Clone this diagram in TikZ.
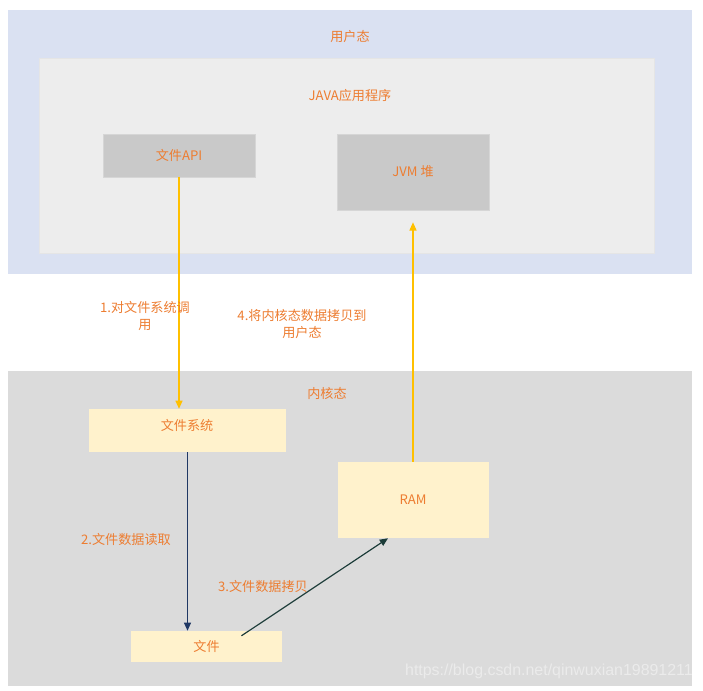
\documentclass[tikz,border=0pt]{standalone}
\usepackage{fontspec}
\setmainfont{Noto Sans CJK SC}
\newfontfamily\wmfont{Liberation Sans}
\usepackage{xcolor}
\usetikzlibrary{arrows.meta,calc}

\definecolor{userbg}{HTML}{DAE1F2}
\definecolor{appbg}{HTML}{EDEDED}
\definecolor{kernbg}{HTML}{DBDBDB}
\definecolor{grbox}{HTML}{C9C9C9}
\definecolor{yebox}{HTML}{FFF2CC}
\definecolor{txtorange}{HTML}{ED7D31}
\definecolor{arrorange}{HTML}{FFC000}
\definecolor{arrblue}{HTML}{203864}
\definecolor{arrteal}{HTML}{1B3B38}

\begin{document}
\begin{tikzpicture}[x=0.03cm, y=-0.03cm,
  lbl/.style={text=txtorange, font=\fontsize{11.2}{15}\selectfont, inner sep=1pt, align=center},
  gbox/.style={fill=grbox, draw=black!16, line width=0.5pt, text=txtorange, font=\fontsize{11.2}{15}\selectfont},
  ybox/.style={fill=yebox, text=txtorange, font=\fontsize{11.2}{15}\selectfont},
  arr/.style={-{Triangle[length=7pt,width=6pt]}, line width=1pt}]
  \useasboundingbox (0,0) rectangle (703,690);
  \fill[white] (0,0) rectangle (703,690);

  % Zone utilisateur
  \fill[userbg] (8,10) rectangle (692,274);
  \node[lbl] (user) at (350,37) {用户态};
  \filldraw[fill=appbg, draw=black!10, line width=0.5pt] (39,58) rectangle (654,253);
  \node[lbl] (app) at (350,96) {JAVA应用程序};

  \node[gbox, minimum width=4.56cm, minimum height=1.29cm] (api) at (179,155.5) {文件API};
  \node[gbox, minimum width=4.56cm, minimum height=2.28cm] (jvm) at (413,172) {JVM 堆};

  % Zone noyau
  \fill[kernbg] (8,371) rectangle (692,686);
  \node[lbl] (kern) at (327,393) {内核态};

  \node[ybox, minimum width=5.91cm, minimum height=1.29cm] (fs) at (187.5,430.5) {};
  \node[lbl] (fslbl) at (187,425) {文件系统};
  \node[ybox, minimum width=4.53cm, minimum height=2.28cm] (ram) at (413,500) {RAM};
  \node[ybox, minimum width=4.53cm, minimum height=0.93cm] (file) at (206.5,646.5) {文件};

  % Fleches
  \draw[arr, arrorange, line width=1.1pt] (api.south) -- (api.south |- fs.north);
  \draw[arr, arrblue] (fs.south) -- (fs.south |- file.north);
  \draw[arr, arrteal] ($(file.north)+(35,5)$) -- ($(ram.south)+(-25,0)$);
  \draw[arr, arrorange, line width=1.1pt, shorten >=0.36cm] (ram.north) -- (ram.north |- jvm.south);

  % Etiquettes
  \node[lbl] (l1) at (145,316) {1.对文件系统调\\用};
  \node[lbl] (l4) at (302,324) {4.将内核态数据拷贝到\\用户态};
  \node[lbl] (l2) at (126,539) {2.文件数据读取};
  \node[lbl] (l3) at (263,586) {3.文件数据拷贝};

  \node[text=white!92!black, font=\wmfont\fontsize{13.6}{15}\selectfont, anchor=east, inner sep=0pt] (wm) at (693,671) {https://blog.csdn.net/qinwuxian19891211};
\end{tikzpicture}
\end{document}
